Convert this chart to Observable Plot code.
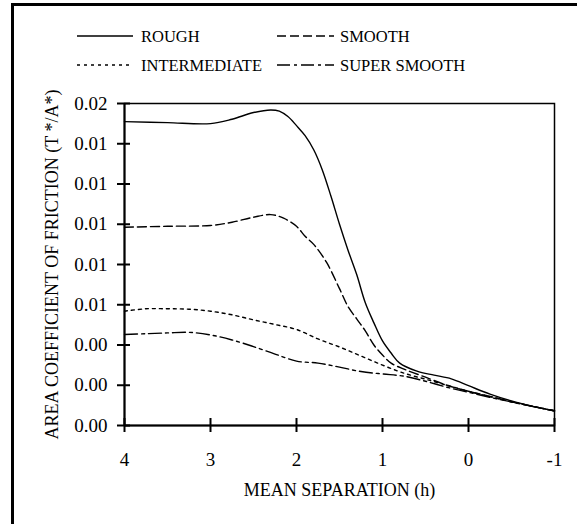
<!DOCTYPE html>
<html>
<head>
<meta charset="utf-8">
<script src="https://cdn.jsdelivr.net/npm/d3@7"></script>
<script src="https://cdn.jsdelivr.net/npm/@observablehq/plot@0.6"></script>
<style>
  body { margin: 0; background: #fff; }
  #wrap { position: relative; width: 577px; height: 524px; overflow: hidden; background: #fff;
          font-family: "Liberation Serif", "Times New Roman", serif; }
  #wrap > svg { position: absolute; left: 0; top: 0; }
  #border { position: absolute; left: 11px; top: 3px; width: 700px; height: 700px;
            border-left: 3px solid #000; border-top: 3px solid #000; pointer-events: none; }
</style>
</head>
<body>
<div id="wrap"><div id="border"></div></div>
<script>
// ---- data ----
const seriesNames = ["ROUGH", "SMOOTH", "INTERMEDIATE", "SUPER SMOOTH"];
const seriesDash = ["none", "9,4", "3,4", "13,4,3,4"];

const roughX = [4.0, 3.5, 3.0, 2.75, 2.5, 2.3, 2.2, 2.1, 2.0, 1.9, 1.8, 1.7, 1.6, 1.5, 1.4, 1.3, 1.2, 1.1, 1.0, 0.9, 0.8, 0.6, 0.4, 0.2, 0.0, -0.25, -0.5, -0.75, -1.0];
const roughY = [0.0151, 0.01505, 0.0150, 0.01522, 0.01555, 0.01568, 0.01562, 0.01535, 0.0149, 0.0144, 0.0137, 0.0127, 0.0114, 0.0100, 0.0087, 0.0075, 0.0061, 0.0051, 0.0042, 0.0036, 0.0031, 0.0027, 0.0025, 0.00232, 0.00198, 0.00156, 0.00122, 0.00095, 0.00072];

const smoothX = [4.0, 3.5, 3.0, 2.75, 2.5, 2.3, 2.15, 2.0, 1.9, 1.8, 1.65, 1.5, 1.4, 1.3, 1.2, 1.1, 1.0, 0.9, 0.75, 0.5, 0.25, 0.0, -0.25, -0.5, -0.75, -1.0];
const smoothY = [0.00985, 0.0099, 0.00994, 0.0101, 0.01035, 0.01048, 0.0103, 0.0099, 0.0094, 0.0090, 0.0081, 0.0068, 0.0059, 0.0053, 0.0047, 0.0040, 0.0035, 0.0031, 0.0028, 0.0024, 0.0020, 0.0017, 0.00145, 0.00118, 0.00095, 0.00073];

const interX = [4.0, 3.75, 3.5, 3.25, 3.0, 2.75, 2.5, 2.25, 2.0, 1.75, 1.5, 1.25, 1.0, 0.75, 0.5, 0.25, 0.0, -0.25, -0.5, -0.75, -1.0];
const interY = [0.00568, 0.0058, 0.0058, 0.00578, 0.00568, 0.0055, 0.00525, 0.00502, 0.00477, 0.0043, 0.0039, 0.00345, 0.0030, 0.0026, 0.0023, 0.0020, 0.0017, 0.00143, 0.00118, 0.00095, 0.00073];

const superX = [4.0, 3.75, 3.5, 3.25, 3.0, 2.75, 2.5, 2.25, 2.0, 1.75, 1.5, 1.25, 1.0, 0.75, 0.5, 0.25, 0.0, -0.25, -0.5, -0.75, -1.0];
const superY = [0.00452, 0.00456, 0.0046, 0.00463, 0.0045, 0.00425, 0.00392, 0.00355, 0.0032, 0.0031, 0.0029, 0.00268, 0.00256, 0.00245, 0.0022, 0.0019, 0.00165, 0.0014, 0.00117, 0.00094, 0.00073];

const xTicks = [4, 3, 2, 1, 0, -1];
const xTickLabels = ["4", "3", "2", "1", "0", "-1"];
const yTicks = [0, 0.002, 0.004, 0.006, 0.008, 0.010, 0.012, 0.014, 0.016];
const yTickLabels = ["0.00", "0.00", "0.00", "0.01", "0.01", "0.01", "0.01", "0.01", "0.02"];

const xTitle = "MEAN SEPARATION (h)";
const yTitle = "AREA COEFFICIENT OF FRICTION (T */A*)";

// ---- build ----
const xs = [roughX, smoothX, interX, superX];
const ys = [roughY, smoothY, interY, superY];
const series = seriesNames.map((name, k) => ({
  name, dash: seriesDash[k],
  rows: xs[k].map((x, i) => ({x, y: ys[k][i]}))
}));

const plot = Plot.plot({
  width: 577, height: 524,
  marginLeft: 124, marginRight: 23, marginTop: 103, marginBottom: 99,
  x: {domain: [4, -1], label: null},
  y: {domain: [0, 0.016], label: null},
  style: {fontFamily: "'Liberation Serif', 'Times New Roman', serif", fontSize: "19px", color: "black", background: "transparent"},
  marks: [
    Plot.frame({stroke: "black", strokeWidth: 1.5}),
    ...series.map(s => Plot.line(s.rows, {
      x: "x", y: "y", curve: "catmull-rom", stroke: "black", strokeWidth: 1.4,
      strokeDasharray: s.dash === "none" ? null : s.dash
    })),
    Plot.ruleX([4], {stroke: "black", strokeWidth: 2}),
    Plot.ruleY([0], {stroke: "black", strokeWidth: 2}),
    Plot.axisX(xTicks, {tickSize: 14, dy: -7, tickPadding: 20, strokeWidth: 2, label: null,
      tickFormat: d => xTickLabels[xTicks.indexOf(d)]}),
    Plot.axisY(yTicks, {tickSize: 13, dx: 6, tickPadding: 10, strokeWidth: 2, label: null,
      tickFormat: d => yTickLabels[yTicks.indexOf(d)]}),
    Plot.text([xTitle], {frameAnchor: "bottom", dy: 65, lineAnchor: "middle", textAnchor: "middle", fontSize: 18, text: d => d}),
    Plot.text([yTitle], {frameAnchor: "left", dx: -72, rotate: -90, textAnchor: "middle", lineAnchor: "middle", fontSize: 18, text: d => d, ariaLabel: "ytitle"})
  ]
});

// superscript asterisks in y title
const yt = plot.querySelector('g[aria-label="ytitle"] text');
if (yt) {
  const parts = yTitle.split("*");
  yt.textContent = "";
  parts.forEach((p, i) => {
    const ts = document.createElementNS("http://www.w3.org/2000/svg", "tspan");
    ts.textContent = p;
    if (i > 0) ts.setAttribute("dy", "0.45em");
    yt.appendChild(ts);
    if (i < parts.length - 1) {
      const sup = document.createElementNS("http://www.w3.org/2000/svg", "tspan");
      sup.textContent = "*";
      sup.setAttribute("dy", "-0.45em");
      sup.setAttribute("font-size", "12");
      yt.appendChild(sup);
    }
  });
}

const wrap = document.getElementById("wrap");
wrap.insertBefore(plot, wrap.firstChild);

// legend overlay
const legendPos = [
  {lx1: 77, lx2: 133, tx: 141, y: 36},
  {lx1: 277, lx2: 334, tx: 340, y: 36},
  {lx1: 77, lx2: 133, tx: 141, y: 65},
  {lx1: 277, lx2: 334, tx: 340, y: 65}
];
const leg = d3.select(wrap).append("svg")
  .attr("width", 577).attr("height", 90)
  .style("position", "absolute").style("left", "0px").style("top", "0px");
series.forEach((s, k) => {
  const p = legendPos[k];
  leg.append("line").attr("x1", p.lx1).attr("x2", p.lx2).attr("y1", p.y).attr("y2", p.y)
    .attr("stroke", "black").attr("stroke-width", 1.6)
    .attr("stroke-dasharray", s.dash === "none" ? null : s.dash);
  leg.append("text").attr("x", p.tx).attr("y", p.y).attr("dy", "0.35em")
    .attr("font-family", "'Liberation Serif', 'Times New Roman', serif").attr("font-size", 16.5)
    .text(s.name);
});
</script>
</body>
</html>
